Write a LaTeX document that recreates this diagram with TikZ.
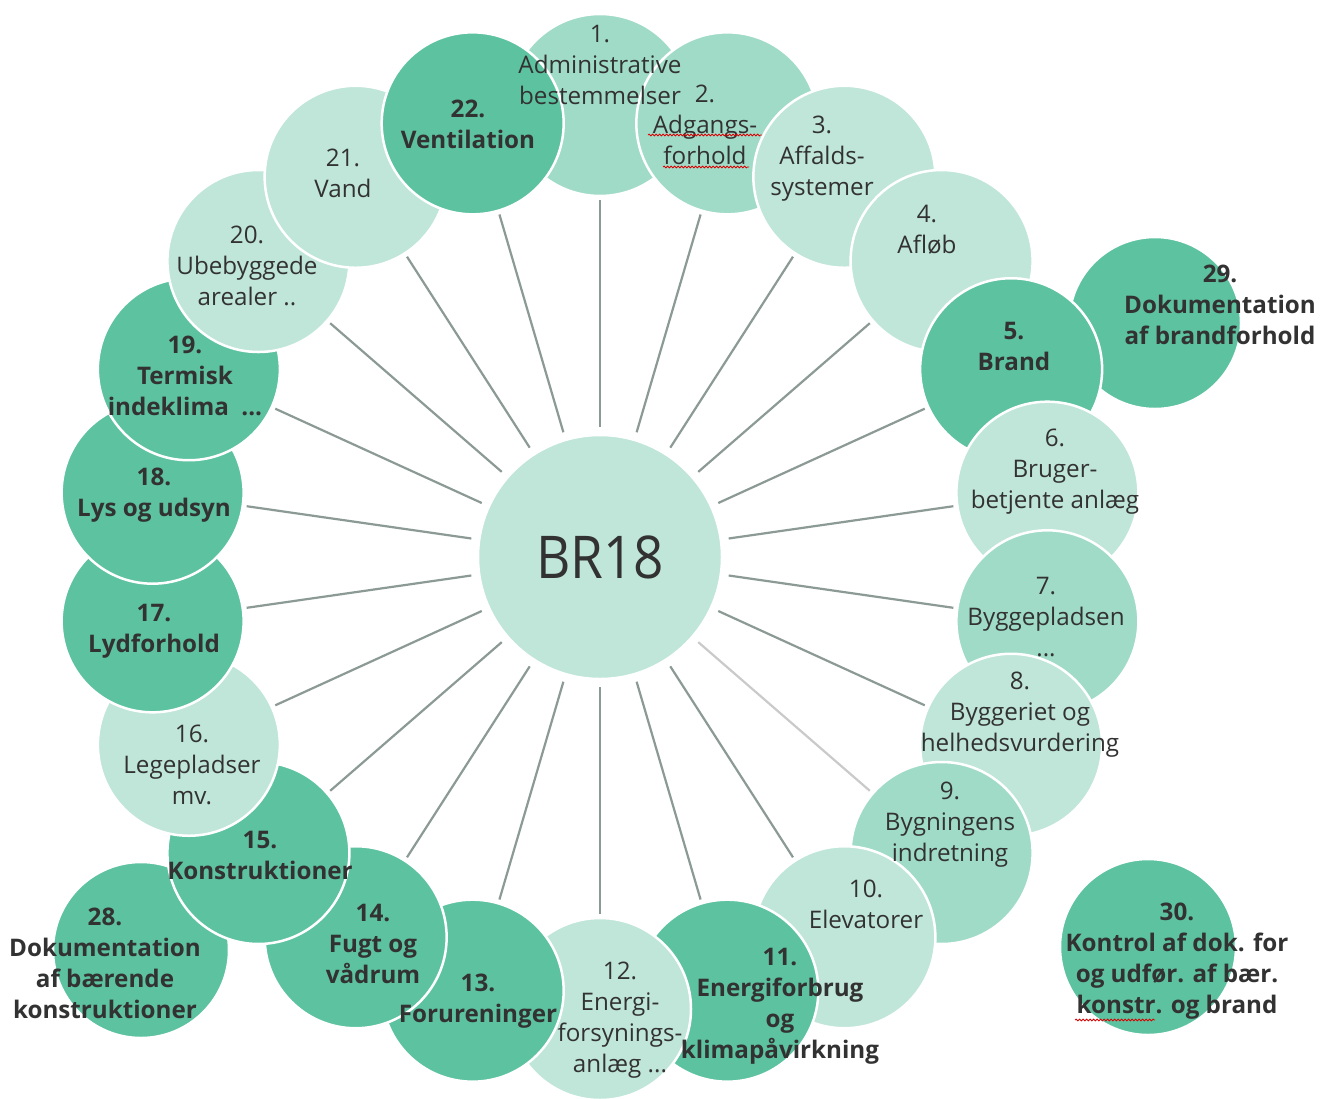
\documentclass[tikz,border=0pt]{standalone}
\usepackage{fontspec}
\setmainfont{Open Sans}
\usetikzlibrary{decorations.pathmorphing}
\definecolor{dk}{RGB}{93,194,160}
\definecolor{md}{RGB}{160,219,200}
\definecolor{lt}{RGB}{192,230,217}
\definecolor{ln}{RGB}{140,154,150}
\definecolor{lnl}{RGB}{202,202,202}
\definecolor{txt}{RGB}{50,50,50}
\begin{document}
\begin{tikzpicture}[x=1pt,y=-1pt,
  bub/.style={circle,draw=white,line width=2.5pt,minimum size=182pt,inner sep=0pt,outer sep=0pt},
  lab/.style={align=center,text=txt,font=\fontsize{24.2}{31}\selectfont,inner sep=0pt},
  blab/.style={align=center,text=txt,font=\fontsize{24.2}{31}\selectfont\bfseries,inner sep=0pt},
  spoke/.style={draw=ln,line width=2.2pt,shorten <=8pt,shorten >=4pt},
  squig/.style={draw=red!85!black,line width=0.8pt,decorate,decoration={snake,amplitude=0.9pt,segment length=3.5pt}}
]
\useasboundingbox[fill=white] (0,0) rectangle (1333,1098);
% extra circles
\node[bub,fill=dk,minimum size=176pt] (c28) at (141,950) {};
\node[bub,fill=dk,minimum size=172pt] (c29) at (1155,323) {};
\node[bub,fill=dk,minimum size=176pt] (c30) at (1148,947) {};
% ring circles
\foreach \k/\c in {1/md,2/md,3/lt,4/lt,5/dk,6/lt,7/md,8/lt,9/md,10/lt,11/dk,12/lt,13/dk,14/dk,15/dk,16/lt,17/dk,18/dk,19/dk,20/lt,21/lt,22/dk}{
  \node[bub,fill=\c] (c\k) at ({600+452*cos(90-(\k-1)*360/22)},{557-452*sin(90-(\k-1)*360/22)}) {};
}
% centre
\node[bub,fill=lt,minimum size=244pt] (br) at (600,557) {};
% spokes
\foreach \k in {1,...,8,10,11,...,22}{
  \draw[spoke] (br) -- (c\k);
}
\draw[spoke,draw=lnl] (br) -- (c9);
% texts
\node[text=txt,font=\fontsize{59}{60}\selectfont,inner sep=0pt] (tbr) at (600,557) {\scalebox{0.9}[1]{BR18}};
\node[lab] (t1) at (600,65) {1.\\Administrative\\bestemmelser};
\node[lab] (t2) at (705,125) {2.\\Adgangs-\\forhold};
\node[lab] (t3) at (822,159) {3.\\Affalds-\\systemer};
\node[lab] (t4) at (927,230) {4.\\Afløb};
\node[blab] (t5) at (1014,346) {5.\\Brand};
\node[lab] (t6) at (1055,472) {6.\\Bruger-\\betjente anlæg};
\node[lab] (t7) at (1046,617) {7.\\Byggepladsen\\...};
\node[lab] (t8) at (1020,715) {8.\\Byggeriet og\\helhedsvurdering};
\node[lab] (t9) at (950,825) {9.\\Bygningens\\indretning};
\node[lab] (t10) at (866,904) {10.\\Elevatorer};
\node[blab] (t11) at (780,1006) {11.\\Energiforbrug\\og\\klimapåvirkning};
\node[lab] (t12) at (620,1020) {12.\\Energi-\\forsynings-\\anlæg ...};
\node[blab] (t13) at (478,1001) {13.\\Forureninger};
\node[blab] (t14) at (373,944) {14.\\Fugt og\\vådrum};
\node[blab] (t15) at (260,855) {15.\\Konstruktioner};
\node[lab] (t16) at (192,765) {16.\\Legepladser\\mv.};
\node[blab] (t17) at (154,631) {17.\\Lydforhold};
\node[blab] (t18) at (154,495) {18.\\Lys og udsyn};
\node[blab] (t19) at (185,376) {19.\\Termisk\\indeklima~~...};
\node[lab] (t20) at (247,266) {20.\\Ubebyggede\\arealer ..};
\node[lab] (t21) at (343,173) {21.\\Vand};
\node[blab] (t22) at (468,124) {22.\\Ventilation};
\node[blab] (t28) at (105,963) {28.\\Dokumentation\\af bærende\\konstruktioner};
\node[blab] (t29) at (1220,305) {29.\\Dokumentation\\af brandforhold};
\node[blab] (t30) at (1177,961) {30.\\Kontrol af dok. for\\og udfør. af bær.\\konstr. og brand};
% spell-check squiggles
\draw[squig] (648,135) -- (762,135);
\draw[squig] (663,167) -- (749,167);
\draw[squig] (1075,1020) -- (1155,1020);
\end{tikzpicture}
\end{document}
